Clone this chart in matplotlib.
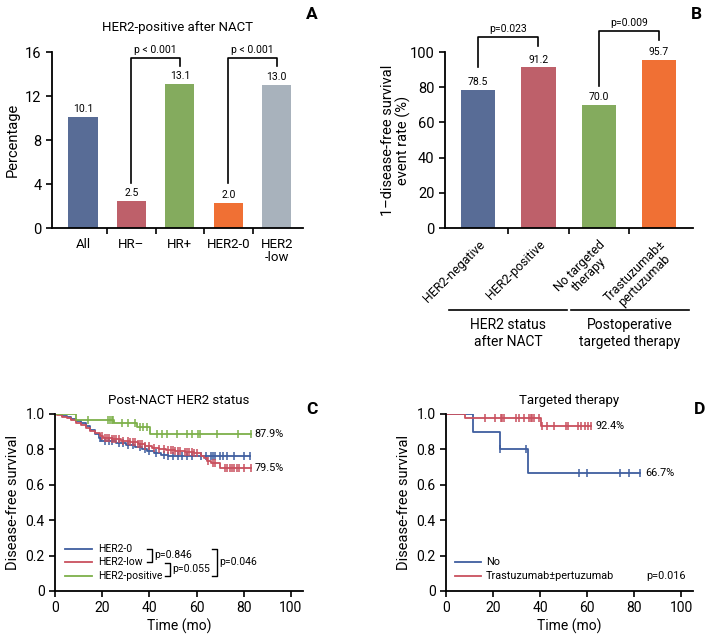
import numpy as np
import matplotlib
matplotlib.use("Agg")
from matplotlib import pyplot as plt

plt.rcParams['font.family'] = ['Roboto', 'DejaVu Sans']

# ---- panel A data
a_cats = ["All", "HR–", "HR+", "HER2-0", "HER2\n-low"]
a_vals = [10.1, 2.5, 13.1, 2.3, 13.0]
a_labels = ["10.1", "2.5", "13.1", "2.0", "13.0"]
a_colors = ["#586c96", "#be606a", "#84ab5e", "#f07034", "#a8b2bc"]

# ---- panel B data
b_cats = ["HER2-negative", "HER2-positive", "No targeted\ntherapy", "Trastuzumab±\npertuzumab"]
b_vals = [78.5, 91.2, 70.0, 95.7]
b_colors = ["#586c96", "#be606a", "#84ab5e", "#f07034"]
b_groups = ["HER2 status\nafter NACT", "Postoperative\ntargeted therapy"]

# ---- panel C data (Kaplan-Meier steps)
her20_t = [0, 2.8, 5, 7, 9, 11, 13, 15, 17, 18.5, 19.5, 22, 26, 30, 34, 37, 39, 42, 45, 48, 82.6]
her20_s = [1.0, 0.99, 0.98, 0.97, 0.96, 0.95, 0.93, 0.91, 0.885, 0.865, 0.85, 0.845, 0.835, 0.825,
           0.815, 0.80, 0.79, 0.78, 0.77, 0.765, 0.765]
her20_cens = [19, 21, 23, 24, 27, 29, 31, 33, 36, 38, 40, 43, 46, 48, 50, 52, 54, 56, 58, 62, 64,
              66, 67, 68, 70, 71, 73, 76, 80, 82.6]

low_t = [0, 1, 3, 5, 7, 9, 11, 13, 15, 17, 19, 20.5, 24, 28, 32, 35, 38, 41, 44, 47, 51, 55, 59,
         62, 63, 64.5, 66, 70, 83]
low_s = [1.0, 0.995, 0.985, 0.975, 0.965, 0.95, 0.935, 0.92, 0.905, 0.89, 0.875, 0.862, 0.857,
         0.85, 0.84, 0.83, 0.82, 0.81, 0.803, 0.797, 0.79, 0.785, 0.778, 0.765, 0.75, 0.735, 0.725,
         0.697, 0.697]
low_cens = [20, 21, 22, 23, 24, 25, 26, 27, 29, 31, 32, 33, 34, 35, 36, 37, 38, 40, 42, 44, 46, 48,
            49, 50, 51, 52, 53, 55, 56, 57, 58, 59, 60, 65, 67, 68, 72, 73, 74, 75, 76, 77, 78, 80, 83]

pos_t = [0, 9, 25, 34.6, 40.3, 83]
pos_s = [1.0, 0.965, 0.95, 0.925, 0.884, 0.884]
pos_cens = [14.1, 22.6, 23.3, 24, 24.7, 28.2, 31, 33.9, 36, 37.4, 38.8, 43.1, 45.2, 47.3, 51.6,
            55.8, 57.9, 60.8, 61.5, 68.5, 77.7, 83]

# ---- panel D data
no_t = [0, 11.4, 22.9, 34.9, 82.5]
no_s = [1.0, 0.9, 0.8, 0.667, 0.667]
no_cens = [23, 34.2, 56.4, 60, 73.8, 78, 82.3]

tp_t = [0, 8.3, 40.3, 61.7]
tp_s = [1.0, 0.977, 0.93, 0.93]
tp_cens = [16.4, 21, 23.2, 23.9, 24.6, 29.6, 31, 33.1, 35.3, 36, 36.7, 37.4, 39.6,
           41, 43.1, 46, 51, 51.7, 56, 57.4, 58.9, 60.3, 61.7]

km_blue = "#3f5e9f"
km_red = "#c9505e"
km_green = "#7db04a"

fig = plt.figure(figsize=(7.14, 6.4), dpi=100)

def style_axes(ax):
    for s in ["top", "right"]:
        ax.spines[s].set_visible(False)
    for s in ["left", "bottom"]:
        ax.spines[s].set_linewidth(1.3)
    ax.tick_params(direction="out", length=4, width=1.2)

def bracket(ax, x1, x2, y1, ytop, y2, text):
    ax.plot([x1, x1, x2, x2], [y1, ytop, ytop, y2], color="black", lw=1.2, clip_on=False)
    ax.annotate(text, ((x1 + x2) / 2, ytop), xytext=(0, 2), textcoords="offset points",
                ha="center", va="bottom", fontsize=7.5, annotation_clip=False)

# ---------- A
axA = fig.add_axes([0.0728, 0.64375, 0.3515, 0.275])
xa = np.arange(len(a_cats))
axA.bar(xa, a_vals, width=0.6, color=a_colors)
for x, v, l in zip(xa, a_vals, a_labels):
    axA.annotate(l, (x, v), xytext=(0, 2), textcoords="offset points", ha="center", va="bottom", fontsize=7.5)
style_axes(axA)
axA.set_xlim(-0.64, 4.54)
axA.set_ylim(0, 16)
axA.set_yticks([0, 4, 8, 12, 16])
axA.set_xticks(xa)
axA.set_xticklabels(a_cats, fontsize=9.5, linespacing=1.0)
axA.tick_params(axis="x", length=0, pad=7)
axA.set_xticks(xa[:-1] + 0.5, minor=True)
axA.tick_params(axis="x", which="minor", length=4, width=1.2)
axA.tick_params(axis="y", labelsize=10.5)
axA.set_ylabel("Percentage", fontsize=10.5, labelpad=4)
axA.set_title("HER2-positive after NACT", fontsize=9.5, pad=15)
bracket(axA, 1, 2, 4.1, 15.45, 14.7, "p < 0.001")
bracket(axA, 3, 4, 4.1, 15.45, 14.7, "p < 0.001")

# ---------- B
axB = fig.add_axes([0.6232, 0.64375, 0.347, 0.275])
xb = np.arange(len(b_cats))
axB.bar(xb, b_vals, width=0.57, color=b_colors)
for x, v in zip(xb, b_vals):
    axB.annotate(f"{v:.1f}", (x, v), xytext=(0, 2), textcoords="offset points", ha="center", va="bottom", fontsize=7.5)
style_axes(axB)
axB.set_xlim(-0.55, 3.56)
axB.set_ylim(0, 100)
axB.set_yticks([0, 20, 40, 60, 80, 100])
axB.tick_params(axis="y", labelsize=10.5)
axB.set_xticks(xb)
axB.set_xticklabels(b_cats, rotation=45, ha="right", rotation_mode="anchor", fontsize=9,
                    multialignment="center", linespacing=1.0)
axB.tick_params(axis="x", length=0, pad=7)
axB.set_xticks(xb[:-1] + 0.5, minor=True)
axB.tick_params(axis="x", which="minor", length=4, width=1.2)
axB.set_ylabel("1–disease-free survival\nevent rate (%)", fontsize=10.5, linespacing=1.1, labelpad=-1)
bracket(axB, 0, 1, 91.5, 108.5, 103.4, "p=0.023")
bracket(axB, 2, 3, 80.7, 112, 107, "p=0.009")
for (x0, x1), g in zip([(0.016, 0.492), (0.508, 0.984)], b_groups):
    axB.plot([x0, x1], [-0.466, -0.466], transform=axB.transAxes, color="black", lw=1.2, clip_on=False)
    axB.text((x0 + x1) / 2, -0.51, g, transform=axB.transAxes, ha="center", va="top", fontsize=10,
             linespacing=1.25)

# ---------- KM helpers
def step_at(ts, ss, t):
    idx = np.searchsorted(ts, t, side="right") - 1
    return np.asarray(ss)[idx]

def km(ax, ts, ss, cens, color):
    ax.step(ts, ss, where="post", color=color, lw=1.3)
    ax.plot(cens, step_at(ts, ss, cens), ls="none", marker="|", ms=5.5, mew=1.1, color=color)

def km_axes(ax, title):
    style_axes(ax)
    ax.set_xlim(0, 105)
    ax.set_ylim(0, 1.0)
    ax.set_xticks([0, 20, 40, 60, 80, 100])
    ax.set_yticks([0, 0.2, 0.4, 0.6, 0.8, 1.0])
    ax.set_yticklabels(["0", "0.2", "0.4", "0.6", "0.8", "1.0"])
    ax.tick_params(labelsize=10)
    ax.set_xlabel("Time (mo)", fontsize=10, labelpad=2)
    ax.set_ylabel("Disease-free survival", fontsize=10.5, labelpad=4)
    ax.set_title(title, fontsize=9.5, pad=7)

def leg_line(ax, y, color, label, x0, x1, xt, fs=7.8):
    ax.plot([x0, x1], [y, y], transform=ax.transAxes, color=color, lw=1.3)
    ax.text(xt, y, label, transform=ax.transAxes, ha="left", va="center", fontsize=fs)

def leg_bracket(ax, x, y_top, y_bot, text):
    ax.plot([x - 0.02, x, x, x - 0.02], [y_top, y_top, y_bot, y_bot], transform=ax.transAxes,
            color="black", lw=1.0)
    ax.text(x + 0.01, (y_top + y_bot) / 2, text, transform=ax.transAxes, ha="left", va="center", fontsize=7.5)

# ---------- C
axC = fig.add_axes([0.077, 0.0766, 0.347, 0.2766])
km(axC, her20_t, her20_s, her20_cens, km_blue)
km(axC, low_t, low_s, low_cens, km_red)
km(axC, pos_t, pos_s, pos_cens, km_green)
km_axes(axC, "Post-NACT HER2 status")
axC.text(84.5, pos_s[-1], "87.9%", ha="left", va="center", fontsize=7.8)
axC.text(84.5, low_s[-1], "79.5%", ha="left", va="center", fontsize=7.8)
leg_line(axC, 0.237, km_blue, "HER2-0", 0.04, 0.149, 0.173, 7.5)
leg_line(axC, 0.164, km_red, "HER2-low", 0.04, 0.149, 0.173, 7.5)
leg_line(axC, 0.085, km_green, "HER2-positive", 0.04, 0.149, 0.173, 7.5)
leg_bracket(axC, 0.391, 0.237, 0.164, "p=0.846")
leg_bracket(axC, 0.464, 0.160, 0.085, "p=0.055")
leg_bracket(axC, 0.653, 0.237, 0.085, "p=0.046")

# ---------- D
axD = fig.add_axes([0.6246, 0.0766, 0.346, 0.2766])
km(axD, no_t, no_s, no_cens, km_blue)
km(axD, tp_t, tp_s, tp_cens, km_red)
km_axes(axD, "Targeted therapy")
axD.text(63.5, tp_s[-1], "92.4%", ha="left", va="center", fontsize=7.8)
axD.text(84.5, no_s[-1], "66.7%", ha="left", va="center", fontsize=7.8)
leg_line(axD, 0.164, km_blue, "No", 0.036, 0.142, 0.162)
leg_line(axD, 0.085, km_red, "Trastuzumab±pertuzumab", 0.036, 0.142, 0.162)
axD.text(102, 0.087, "p=0.016", ha="right", va="center", fontsize=7.8)

# panel letters
for x, y, s in [(0.437, 0.977, "A"), (0.976, 0.977, "B"), (0.437, 0.36, "C"), (0.98, 0.36, "D")]:
    fig.text(x, y, s, fontsize=12.5, fontweight="bold", ha="center", va="center")

fig.savefig("out.png", dpi=100)
